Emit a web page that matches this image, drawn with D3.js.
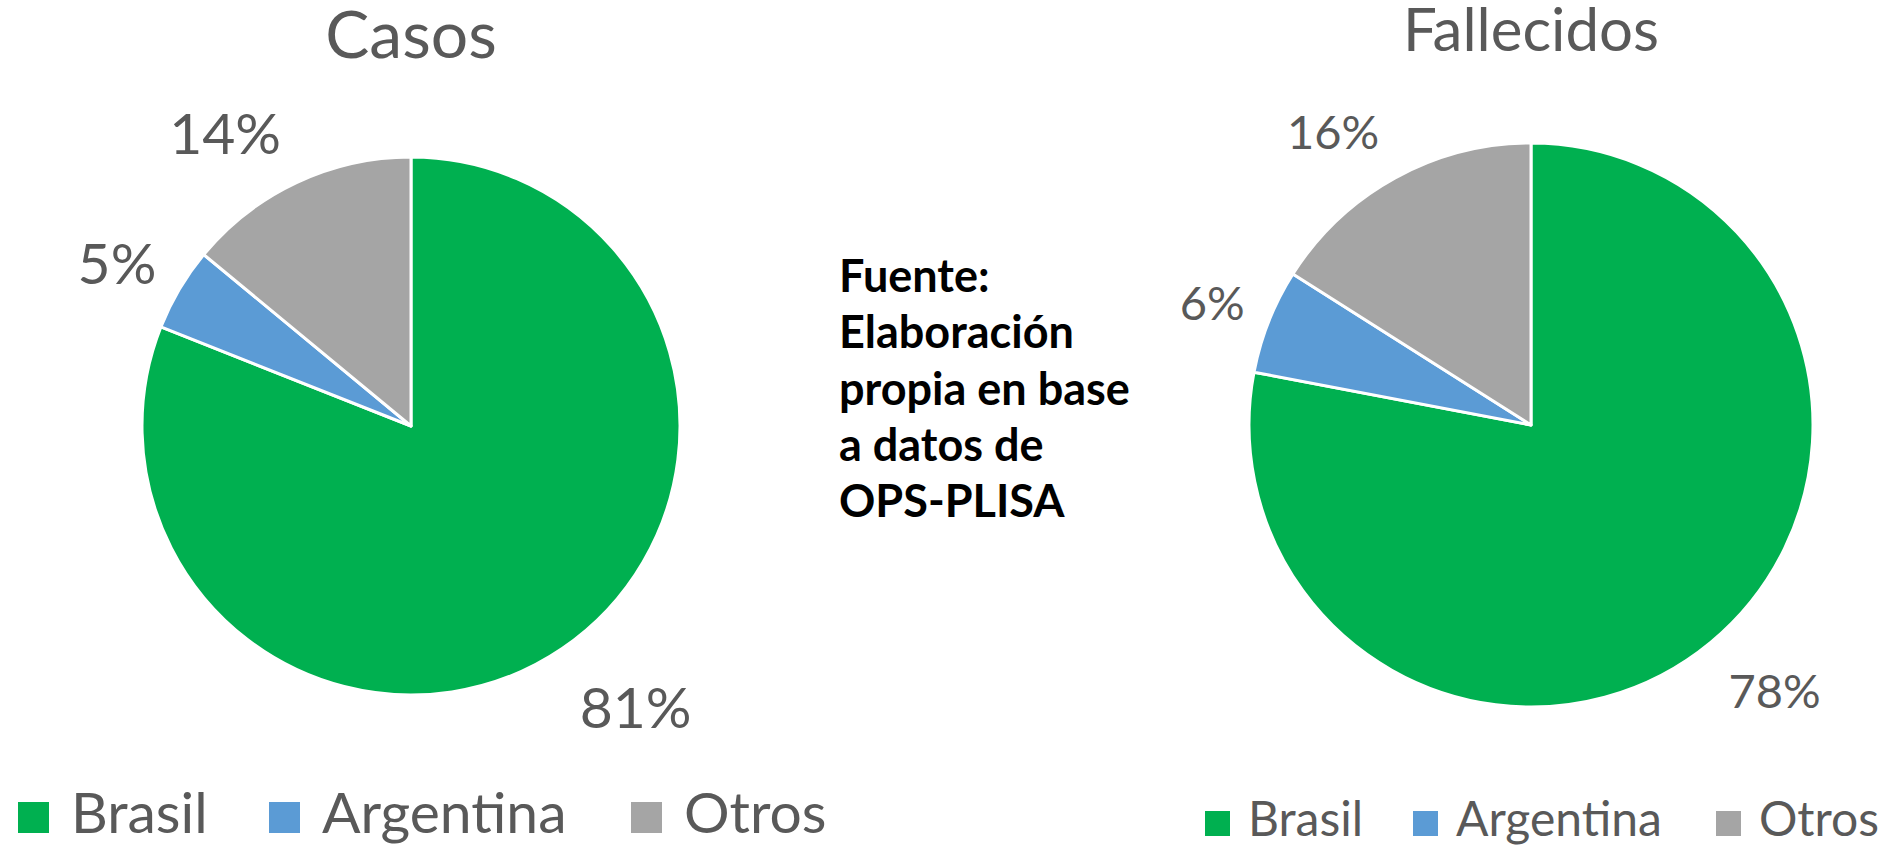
<!DOCTYPE html>
<html>
<head>
<meta charset="utf-8">
<script src="https://cdn.jsdelivr.net/npm/d3@7"></script>
<style>
  body { margin: 0; background: #fff; }
  svg { display: block; }
</style>
</head>
<body>
<div id="chart"></div>
<script>
// data
var countries = ["Brasil", "Argentina", "Otros"];
var casosPct = [81, 5, 14];
var fallecidosPct = [78, 6, 16];
var colors = ["#00B050", "#5B9BD5", "#A5A5A5"];

var svgWidth = 1885;
var svgHeight = 847;
var textColor = "#595959";
var font = "Lato, 'Open Sans', sans-serif";

var svg = d3.select("#chart")
    .append("svg")
    .attr("width", svgWidth)
    .attr("height", svgHeight);

var color = d3.scaleOrdinal().domain(countries).range(colors);

// one pie + title + legend
function drawPie(opts) {
    var g = svg.append("g")
        .attr("transform", `translate(${opts.cx}, ${opts.cy})`);

    var data = countries.map(function(c, i) {
        return { name: c, value: opts.values[i] };
    });

    var pie = d3.pie().sort(null).value(d => d.value);
    var arc = d3.arc().innerRadius(0).outerRadius(opts.r);
    var labelArc = d3.arc()
        .innerRadius(opts.r * opts.labelK)
        .outerRadius(opts.r * opts.labelK);

    var arcs = pie(data);

    g.selectAll("path")
        .data(arcs)
        .enter()
        .append("path")
        .attr("d", arc)
        .attr("fill", d => color(d.data.name))
        .attr("stroke", "#fff")
        .attr("stroke-width", 3)
        .attr("stroke-linejoin", "round");

    // labels sit at the outside centroid, nudged like Excel's best fit
    g.selectAll("text.lbl")
        .data(arcs)
        .enter()
        .append("text")
        .attr("class", "lbl")
        .attr("transform", function(d, i) {
            var c = labelArc.centroid(d);
            return `translate(${c[0] + opts.nudge[i][0]}, ${c[1] + opts.nudge[i][1]})`;
        })
        .attr("text-anchor", "middle")
        .attr("dy", "0.36em")
        .attr("font-family", font)
        .attr("font-size", opts.labelSize)
        .attr("fill", textColor)
        .text(d => d.data.value + "%");

    // title
    svg.append("text")
        .attr("x", opts.cx)
        .attr("y", opts.titleY)
        .attr("text-anchor", "middle")
        .attr("font-family", font)
        .attr("font-size", opts.titleSize)
        .attr("fill", textColor)
        .text(opts.title);

    // legend
    var leg = svg.append("g");
    var items = leg.selectAll("g")
        .data(countries)
        .enter()
        .append("g")
        .attr("transform", (d, i) => `translate(${opts.legendX[i]}, ${opts.legendY})`);

    items.append("rect")
        .attr("x", 0)
        .attr("y", -opts.sq)
        .attr("width", opts.sq)
        .attr("height", opts.sq)
        .attr("fill", d => color(d));

    items.append("text")
        .attr("x", opts.sq + opts.gap)
        .attr("y", 0)
        .attr("font-family", font)
        .attr("font-size", opts.legendSize)
        .attr("fill", textColor)
        .text(d => d);
}

drawPie({
    title: "Casos", values: casosPct,
    cx: 411, cy: 426, r: 269, labelK: 1.3, labelSize: 57,
    nudge: [[28, -8], [7, 15], [-37, 24]],
    titleY: 58, titleSize: 66,
    legendX: [18, 269, 631], legendY: 833, sq: 31, gap: 22, legendSize: 57
});

drawPie({
    title: "Fallecidos", values: fallecidosPct,
    cx: 1531, cy: 425, r: 282, labelK: 1.25, labelSize: 47,
    nudge: [[19, -6], [9, 8], [-28, 16]],
    titleY: 51, titleSize: 60,
    legendX: [1205, 1413, 1716], legendY: 836, sq: 25, gap: 18, legendSize: 48
});

// source note
var note = ["Fuente:", "Elaboración", "propia en base", "a datos de", "OPS-PLISA"];
svg.append("text")
    .attr("font-family", font)
    .attr("font-weight", "bold")
    .attr("font-size", 45)
    .attr("fill", "#000")
    .selectAll("tspan")
    .data(note)
    .enter()
    .append("tspan")
    .attr("x", 839)
    .attr("y", (d, i) => 292 + i * 56.3)
    .text(d => d);
</script>
</body>
</html>
